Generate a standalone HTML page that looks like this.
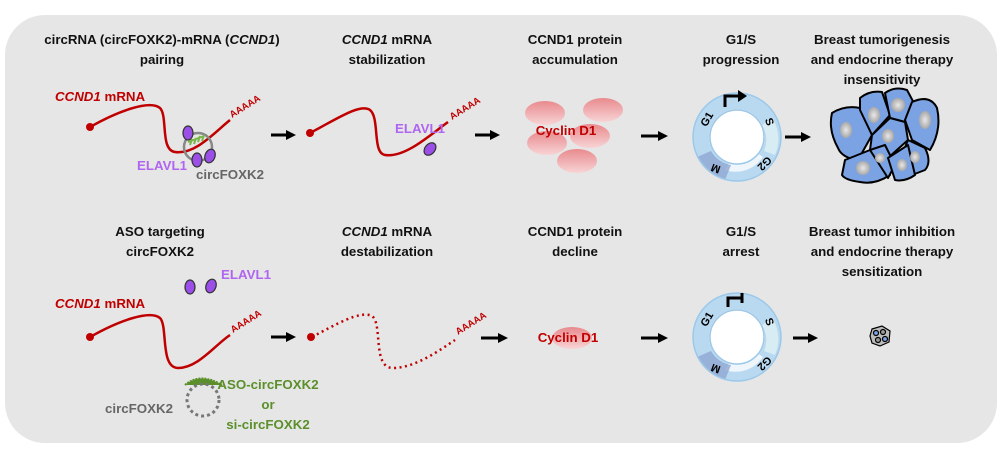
<!DOCTYPE html>
<html><head><meta charset="utf-8"><style>
html,body{margin:0;padding:0;background:#fff;}
svg{display:block;font-family:"Liberation Sans",sans-serif;}
.t{font-size:13.3px;font-weight:bold;fill:#111;text-anchor:middle;}
</style></head><body>
<svg width="1004" height="450" viewBox="0 0 1004 450" xmlns="http://www.w3.org/2000/svg">
<defs>
<linearGradient id="cy" x1="0" y1="0" x2="0" y2="1"><stop offset="0" stop-color="#e88a8e"/><stop offset="1" stop-color="#f8d4d5"/></linearGradient>
<radialGradient id="nu" cx="0.5" cy="0.5" r="0.5"><stop offset="0" stop-color="#e8e8e8"/><stop offset="1" stop-color="#a8a8a8"/></radialGradient>
<marker id="ar" markerWidth="10" markerHeight="10" refX="2" refY="5" orient="auto" markerUnits="userSpaceOnUse"><path d="M0,0 L10,5 L0,10 z" fill="#000"/></marker>
<g id="cyc">
 <circle r="36" fill="none" stroke="#b9d9f0" stroke-width="16"/>
 <path d="M26,20 A33,33 0 0 1 -12,33 L-8,26 A26,26 0 0 0 20,16 z" fill="#eef5fb"/>
 <path d="M-12,43 A44,44 0 0 1 -40,20 L-26,14 A28,28 0 0 0 -6,28 z" fill="#8fa6d2" opacity="0.8"/>
 <path d="M36,-18 A40,40 0 0 1 38,18 L27,14 A28,28 0 0 0 25,-12 z" fill="#d8ecf4"/>
 <circle r="44" fill="none" stroke="#9cc8ea" stroke-width="1.5"/>
 <circle r="27" fill="#fff" stroke="#9cc8ea" stroke-width="1.5"/>
 <text x="-27" y="-16" font-size="11" font-weight="bold" transform="rotate(-60 -27 -16)" text-anchor="middle">G1</text>
 <text x="29" y="-14" font-size="11" font-weight="bold" transform="rotate(70 29 -14)" text-anchor="middle">S</text>
 <text x="25" y="24" font-size="11" font-weight="bold" transform="rotate(135 25 24)" text-anchor="middle">G2</text>
 <text x="-20" y="28" font-size="11" font-weight="bold" transform="rotate(200 -20 28)" text-anchor="middle">M</text>
</g>
</defs>
<rect x="5" y="15" width="992" height="428" rx="40" fill="#e6e6e6"/>
<!-- titles top -->
<text class="t" x="162" y="44">circRNA (circFOXK2)-mRNA (<tspan font-style="italic">CCND1</tspan>)</text>
<text class="t" x="162" y="64">pairing</text>
<text class="t" x="387" y="44"><tspan font-style="italic">CCND1</tspan> mRNA</text>
<text class="t" x="387" y="64">stabilization</text>
<text class="t" x="575" y="44">CCND1 protein</text>
<text class="t" x="575" y="64">accumulation</text>
<text class="t" x="741" y="44">G1/S</text>
<text class="t" x="741" y="64">progression</text>
<text class="t" x="882" y="44">Breast tumorigenesis</text>
<text class="t" x="882" y="64">and endocrine therapy</text>
<text class="t" x="882" y="84">insensitivity</text>
<!-- titles bottom -->
<text class="t" x="160" y="236">ASO targeting</text>
<text class="t" x="160" y="256">circFOXK2</text>
<text class="t" x="387" y="236"><tspan font-style="italic">CCND1</tspan> mRNA</text>
<text class="t" x="387" y="256">destabilization</text>
<text class="t" x="575" y="236">CCND1 protein</text>
<text class="t" x="575" y="256">decline</text>
<text class="t" x="741" y="236">G1/S</text>
<text class="t" x="741" y="256">arrest</text>
<text class="t" x="882" y="236">Breast tumor inhibition</text>
<text class="t" x="882" y="256">and endocrine therapy</text>
<text class="t" x="882" y="276">sensitization</text>

<!-- top row panel 1 -->
<text x="55" y="101" font-size="13.3" font-weight="bold" fill="#c00000"><tspan font-style="italic">CCND1</tspan> mRNA</text>
<path d="M90,127 C120,110 150,100 160,108 C168,116 160,150 175,152 C195,155 215,132 230,120" fill="none" stroke="#c00000" stroke-width="2.5"/>
<circle cx="90" cy="127" r="4" fill="#c00000"/>
<text x="232" y="118" font-size="9.5" font-weight="bold" fill="#c00000" transform="rotate(-32 232 118)">AAAAA</text>
<circle cx="198" cy="147" r="14" fill="none" stroke="#888" stroke-width="2.5"/>
<path d="M188,142 l16,-6 M190,145 l2,-6 M194,144 l2,-6 M198,142 l2,-6 M202,141 l2,-6" stroke="#7ab648" stroke-width="2"/>
<ellipse cx="188" cy="133" rx="5" ry="7" fill="#9b4fe8" stroke="#333" stroke-width="1.2"/>
<ellipse cx="197" cy="160" rx="5" ry="7" fill="#9b4fe8" stroke="#333" stroke-width="1.2"/>
<ellipse cx="210" cy="156" rx="5" ry="7" fill="#9b4fe8" stroke="#333" stroke-width="1.2" transform="rotate(20 210 156)"/>
<text x="137" y="170" font-size="13.3" font-weight="bold" fill="#b065f0">ELAVL1</text>
<text x="196" y="179" font-size="13.3" font-weight="bold" fill="#666">circFOXK2</text>
<line x1="271" y1="135" x2="288" y2="135" stroke="#000" stroke-width="3" marker-end="url(#ar)"/>
<!-- panel 2 -->
<path d="M310,133 C335,120 360,103 370,110 C380,118 372,153 385,155 C405,158 430,135 448,122" fill="none" stroke="#c00000" stroke-width="2.5"/>
<circle cx="310" cy="133" r="4" fill="#c00000"/>
<text x="452" y="120" font-size="9.5" font-weight="bold" fill="#c00000" transform="rotate(-32 452 120)">AAAAA</text>
<text x="395" y="133" font-size="13.3" font-weight="bold" fill="#b065f0">ELAVL1</text>
<ellipse cx="430" cy="149" rx="5" ry="7" fill="#9b4fe8" stroke="#333" stroke-width="1.2" transform="rotate(40 430 149)"/>
<line x1="475" y1="135" x2="492" y2="135" stroke="#000" stroke-width="3" marker-end="url(#ar)"/>
<!-- panel 3 -->
<ellipse cx="545" cy="113" rx="20" ry="12" fill="url(#cy)"/>
<ellipse cx="603" cy="110" rx="20" ry="12" fill="url(#cy)"/>
<ellipse cx="590" cy="136" rx="20" ry="12" fill="url(#cy)"/>
<ellipse cx="547" cy="143" rx="20" ry="12" fill="url(#cy)"/>
<ellipse cx="577" cy="161" rx="20" ry="12" fill="url(#cy)"/>
<text x="566" y="135" font-size="13.3" font-weight="bold" fill="#c00000" text-anchor="middle">Cyclin D1</text>
<line x1="641" y1="136" x2="660" y2="136" stroke="#000" stroke-width="3" marker-end="url(#ar)"/>
<!-- panel 4 -->
<use href="#cyc" x="737" y="137"/>
<path d="M725,107 L725,96 L740,96" fill="none" stroke="#000" stroke-width="3"/>
<path d="M738,90 L747,96 L738,102 z" fill="#000"/>
<line x1="785" y1="137" x2="803" y2="137" stroke="#000" stroke-width="3" marker-end="url(#ar)"/>
<!-- cells -->
<g stroke="#000" stroke-width="2" fill="#7ba3e4" stroke-linejoin="round">
<path d="M832,113 Q845,105 860,108 L872,135 L858,160 Q842,158 838,148 Q828,130 832,113 z"/>
<path d="M860,98 Q870,90 882,92 L890,115 L872,135 L860,110 z"/>
<path d="M885,93 Q895,86 907,90 L915,105 L905,122 L890,118 z"/>
<path d="M912,102 Q930,94 937,108 Q942,130 930,150 L912,140 L905,120 z"/>
<path d="M872,135 L890,118 L905,122 L908,140 L888,158 L870,150 z"/>
<path d="M908,140 L925,148 Q932,162 925,170 L912,175 L898,165 z"/>
<path d="M845,160 L870,150 L888,160 L890,175 Q875,185 860,182 Q845,180 842,175 z"/>
<path d="M870,150 L885,145 L895,165 L888,178 z"/>
<path d="M888,158 L908,145 L915,175 Q905,182 895,180 z"/>
</g>
<g fill="url(#nu)">
<ellipse cx="846" cy="130" rx="6" ry="8"/><ellipse cx="874" cy="115" rx="6" ry="8"/>
<ellipse cx="898" cy="105" rx="7" ry="7"/><ellipse cx="925" cy="120" rx="6" ry="9"/>
<ellipse cx="888" cy="136" rx="6" ry="7"/><ellipse cx="915" cy="157" rx="5" ry="6"/>
<ellipse cx="863" cy="168" rx="7" ry="7"/><ellipse cx="880" cy="158" rx="5" ry="5"/><ellipse cx="902" cy="165" rx="5" ry="6"/>
</g>

<!-- bottom row panel 1 -->
<ellipse cx="190" cy="287" rx="5" ry="7" fill="#9b4fe8" stroke="#333" stroke-width="1.2"/>
<ellipse cx="211" cy="286" rx="5" ry="7" fill="#9b4fe8" stroke="#333" stroke-width="1.2" transform="rotate(20 211 286)"/>
<text x="221" y="279" font-size="13.3" font-weight="bold" fill="#b065f0">ELAVL1</text>
<text x="55" y="308" font-size="13.3" font-weight="bold" fill="#c00000"><tspan font-style="italic">CCND1</tspan> mRNA</text>
<path d="M90,337 C120,320 150,310 160,318 C168,326 160,368 178,368 C198,368 215,345 230,335" fill="none" stroke="#c00000" stroke-width="2.5"/>
<circle cx="90" cy="337" r="4" fill="#c00000"/>
<text x="233" y="333" font-size="9.5" font-weight="bold" fill="#c00000" transform="rotate(-32 233 333)">AAAAA</text>
<path d="M185,385 Q200,372 222,385" fill="#5a8f2a" stroke="#5a8f2a" stroke-width="2" stroke-dasharray="2,1"/>
<circle cx="203" cy="400" r="16" fill="none" stroke="#777" stroke-width="3" stroke-dasharray="3,3"/>
<text x="105" y="413" font-size="13.3" font-weight="bold" fill="#666">circFOXK2</text>
<text x="268" y="389" font-size="13.3" font-weight="bold" fill="#5a8f2a" text-anchor="middle">ASO-circFOXK2</text>
<text x="268" y="409" font-size="13.3" font-weight="bold" fill="#5a8f2a" text-anchor="middle">or</text>
<text x="268" y="429" font-size="13.3" font-weight="bold" fill="#5a8f2a" text-anchor="middle">si-circFOXK2</text>
<line x1="271" y1="337" x2="288" y2="337" stroke="#000" stroke-width="3" marker-end="url(#ar)"/>
<!-- panel 2 -->
<path d="M312,337 C335,325 360,310 372,316 C383,324 372,368 393,368 C415,368 440,350 455,340" fill="none" stroke="#c00000" stroke-width="2.5" stroke-dasharray="2,3.5"/>
<circle cx="311" cy="337" r="4" fill="#c00000"/>
<text x="458" y="335" font-size="9.5" font-weight="bold" fill="#c00000" transform="rotate(-32 458 335)">AAAAA</text>
<line x1="481" y1="338" x2="500" y2="338" stroke="#000" stroke-width="3" marker-end="url(#ar)"/>
<!-- panel 3 -->
<ellipse cx="572" cy="338" rx="20" ry="11" fill="url(#cy)"/>
<text x="568" y="342" font-size="13.3" font-weight="bold" fill="#c00000" text-anchor="middle">Cyclin D1</text>
<line x1="641" y1="338" x2="660" y2="338" stroke="#000" stroke-width="3" marker-end="url(#ar)"/>
<!-- panel 4 -->
<use href="#cyc" x="737" y="337"/>
<path d="M728,307 L728,298 L742,298 M742,293 L742,303" fill="none" stroke="#000" stroke-width="3"/>
<line x1="793" y1="338" x2="810" y2="338" stroke="#000" stroke-width="3" marker-end="url(#ar)"/>
<g stroke="#000" stroke-width="1.2" fill="#9a9a9a">
<path d="M872,329 L882,326 L890,331 L889,342 L880,346 L872,343 L870,336 z" fill="#bbb"/>
<circle cx="876" cy="333" r="2.5" fill="#7ba3e4"/><circle cx="883" cy="332" r="2.5"/><circle cx="878" cy="340" r="2.5"/><circle cx="885" cy="339" r="2.5" fill="#7ba3e4"/>
</g>
</svg>
</body></html>
